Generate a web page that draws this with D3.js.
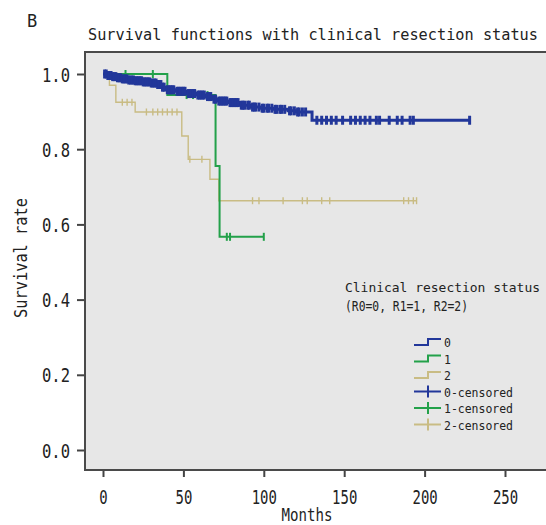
<!DOCTYPE html>
<html>
<head>
<meta charset="utf-8">
<script src="https://cdn.jsdelivr.net/npm/d3@7"></script>
<style>
  body { margin: 0; background: #fff; }
  text { font-family: "DejaVu Sans Mono", monospace; fill: #222; }
</style>
</head>
<body>
<svg id="chart" width="546" height="525"></svg>
<script>
// tick labels
const xTicks = [0, 50, 100, 150, 200, 250];
const yTicks = [0, 0.2, 0.4, 0.6, 0.8, 1.0];

// group 0 (R0) step curve
const g0Times = [0, 3, 6, 9, 12, 16, 20, 25, 30, 34, 37, 39, 45, 52, 58, 64, 68, 71, 78, 85, 92, 98, 106, 115, 120, 130];
const g0Surv = [1, 0.996, 0.993, 0.99, 0.987, 0.984, 0.982, 0.979, 0.976, 0.972, 0.965, 0.958, 0.954, 0.948, 0.944, 0.94, 0.933, 0.928, 0.924, 0.917, 0.912, 0.909, 0.906, 0.902, 0.899, 0.877];
const g0End = 228;
const g0Censor = [1, 2, 3, 4, 5, 6, 7, 8, 9, 10, 11, 12, 13, 14, 15, 16, 17, 18, 19, 20, 21, 22, 23, 24, 25, 26, 27, 28, 29, 30, 31, 32, 33, 34, 35, 36, 37, 38, 40, 41, 42, 43, 44, 46, 47, 48, 49, 50, 51, 53, 54, 55, 56, 57, 59, 60, 61, 62, 63, 65, 66, 67, 69, 70, 72, 73, 74, 75, 76, 77, 79, 80, 81, 82, 83, 84, 86, 87, 88, 90, 91, 93, 94, 95, 97, 99, 100, 102, 103, 105, 107, 108, 110, 111, 113, 116, 117, 119, 121, 122, 124, 126,
  133, 136, 139, 142, 145, 149, 154, 157, 160, 163, 166, 170, 172, 178, 183, 186, 191, 193, 228];

// group 1 (R1)
const g1Times = [0, 40, 70, 72.5];
const g1Surv = [1, 0.944, 0.755, 0.567];
const g1End = 100;
const g1Censor = [14, 31, 52, 56, 59, 62, 65, 77, 79, 100];

// group 2 (R2)
const g2Times = [0, 4, 8, 20, 49, 53, 66.5, 72];
const g2Surv = [1, 0.97, 0.925, 0.899, 0.835, 0.773, 0.72, 0.663];
const g2End = 195;
const g2Censor = [12, 15, 18, 27, 31, 34, 37, 40, 43, 46, 54, 61.5, 93, 97, 112, 124, 127, 136, 141, 187, 190, 193, 195];

const legendLabels = ['0', '1', '2', '0-censored', '1-censored', '2-censored'];
const colors = ['#22379a', '#23a14a', '#c9bc84'];

const svg = d3.select('#chart');
const plot = { left: 85, top: 52, right: 546, bottom: 470 };

const x = d3.scaleLinear().domain([0, 250]).range([103, 505]);
const y = d3.scaleLinear().domain([0, 1]).range([450, 74]);

/// plot panel
svg.append('rect')
  .attr('x', plot.left).attr('y', plot.top)
  .attr('width', plot.right - plot.left).attr('height', plot.bottom - plot.top)
  .attr('fill', '#e7e7e7');

/// axes
const xAxis = svg.append('g')
  .attr('transform', `translate(0,${plot.bottom})`)
  .call(d3.axisBottom(x).tickValues(xTicks).tickSize(7).tickSizeOuter(0).tickFormat(d3.format('d')));
xAxis.select('.domain').remove();
xAxis.selectAll('line').attr('stroke', '#444').attr('stroke-width', 2);
xAxis.selectAll('text')
  .attr('y', 18).attr('dy', '0.8em')
  .style('font-size', '20px')
  .attr('textLength', d => String(d).length * 8.4)
  .attr('lengthAdjust', 'spacingAndGlyphs');

const yAxis = svg.append('g')
  .attr('transform', `translate(${plot.left},0)`)
  .call(d3.axisLeft(y).tickValues(yTicks).tickSize(8).tickFormat(d3.format('.1f')));
yAxis.select('.domain').remove();
yAxis.selectAll('line').attr('stroke', '#444').attr('stroke-width', 2);
yAxis.selectAll('text')
  .attr('x', -15).attr('dy', '0.35em')
  .style('font-size', '20px')
  .attr('textLength', 28)
  .attr('lengthAdjust', 'spacingAndGlyphs');

/// frame (top, left, bottom)
svg.append('path')
  .attr('d', `M${plot.right},${plot.top}H${plot.left}V${plot.bottom}H${plot.right}`)
  .attr('fill', 'none').attr('stroke', '#4a4a4a').attr('stroke-width', 2);

/// survival curves
const groups = [
  { times: g0Times, surv: g0Surv, end: g0End, censor: g0Censor, width: 3, tick: 9, tw: 3 },
  { times: g1Times, surv: g1Surv, end: g1End, censor: g1Censor, width: 2, tick: 8, tw: 2 },
  { times: g2Times, surv: g2Surv, end: g2End, censor: g2Censor, width: 1.4, tick: 7, tw: 1.4 }
];

function survAt(g, t) {
  let s = g.surv[0];
  g.times.forEach((tt, i) => { if (tt <= t) s = g.surv[i]; });
  return s;
}

const line = d3.line().x(d => x(d[0])).y(d => y(d[1])).curve(d3.curveStepAfter);

// draw in order 2, 1, 0 so the blue sits on top like the original
[2, 1, 0].forEach(i => {
  const g = groups[i];
  const pts = g.times.map((t, j) => [t, g.surv[j]]);
  pts.push([g.end, g.surv[g.surv.length - 1]]);
  const layer = svg.append('g');
  layer.append('path')
    .attr('d', line(pts))
    .attr('fill', 'none')
    .attr('stroke', colors[i])
    .attr('stroke-width', g.width);
  layer.selectAll('line.cens')
    .data(g.censor)
    .enter()
    .append('line')
    .attr('class', 'cens')
    .attr('x1', d => x(d)).attr('x2', d => x(d))
    .attr('y1', d => y(survAt(g, d)) - g.tick / 2)
    .attr('y2', d => y(survAt(g, d)) + g.tick / 2)
    .attr('stroke', colors[i])
    .attr('stroke-width', g.tw);
});

/// titles
svg.append('text').attr('x', 27).attr('y', 27).style('font-size', '17px').text('B');
svg.append('text').attr('x', 88).attr('y', 40).style('font-size', '15px')
  .attr('textLength', 450).attr('lengthAdjust', 'spacingAndGlyphs')
  .text('Survival functions with clinical resection status');
svg.append('text').attr('x', 307).attr('y', 521).attr('text-anchor', 'middle').style('font-size', '17px')
  .attr('textLength', 51).attr('lengthAdjust', 'spacingAndGlyphs')
  .text('Months');
svg.append('text').attr('transform', 'translate(27,258) rotate(-90)').attr('text-anchor', 'middle').style('font-size', '17px')
  .attr('textLength', 120).attr('lengthAdjust', 'spacingAndGlyphs')
  .text('Survival rate');

/// legend
const lg = svg.append('g');
lg.append('text').attr('x', 345).attr('y', 292).style('font-size', '13px')
  .attr('textLength', 195).attr('lengthAdjust', 'spacingAndGlyphs')
  .text('Clinical resection status');
lg.append('text').attr('x', 345).attr('y', 311).style('font-size', '14px')
  .attr('textLength', 123).attr('lengthAdjust', 'spacingAndGlyphs')
  .text('(R0=0, R1=1, R2=2)');

const rowY = i => 342 + i * 16.5;
const items = lg.selectAll('g.item')
  .data(legendLabels)
  .enter()
  .append('g')
  .attr('class', 'item')
  .attr('transform', (d, i) => `translate(0,${rowY(i)})`);

items.append('text')
  .attr('x', 444).attr('y', 5)
  .style('font-size', '13px')
  .attr('textLength', d => d.length * 6.9)
  .attr('lengthAdjust', 'spacingAndGlyphs')
  .text(d => d);

items.each(function (d, i) {
  const g = d3.select(this);
  const c = colors[i % 3];
  if (i < 3) {
    g.append('path')
      .attr('d', 'M414,3H428V-3H441')
      .attr('fill', 'none').attr('stroke', c).attr('stroke-width', 2);
  } else {
    g.append('line').attr('x1', 414).attr('x2', 441).attr('y1', 0).attr('y2', 0)
      .attr('stroke', c).attr('stroke-width', 2);
    g.append('line').attr('x1', 428).attr('x2', 428).attr('y1', -6).attr('y2', 6)
      .attr('stroke', c).attr('stroke-width', 2);
  }
});
</script>
</body>
</html>
